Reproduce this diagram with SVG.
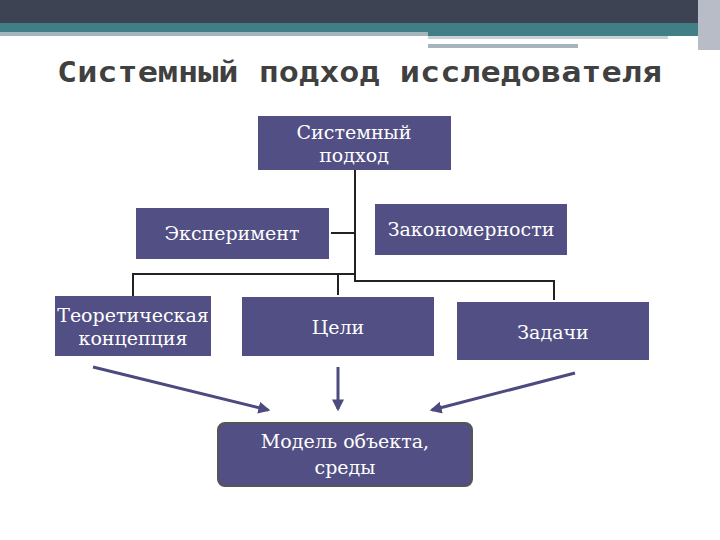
<svg xmlns="http://www.w3.org/2000/svg" width="720" height="540" viewBox="0 0 720 540">
<defs>
<style>
.b{fill:#524f84}
.t{font-family:"DejaVu Serif",serif;font-size:19px;fill:#fff;text-anchor:middle}
.c{stroke:#222;stroke-width:2;fill:none}
.a{stroke:#4c4a7e;stroke-width:3;fill:none;marker-end:url(#ar)}
</style>
<marker id="ar" viewBox="0 0 10 10" refX="8" refY="5" markerWidth="4" markerHeight="4" orient="auto"><path d="M0,0L10,5L0,10z" fill="#4c4a7e"/></marker>
</defs>
<rect width="720" height="540" fill="#fff"/>
<rect width="720" height="23" fill="#3e4354"/>
<rect y="23" width="720" height="9" fill="#417f86"/>
<rect y="32" width="428" height="4" fill="#a4b5bc"/>
<rect x="428" y="32" width="280" height="4" fill="#417f86"/>
<rect x="428" y="36" width="240" height="3" fill="#c8d2d6"/>
<rect x="428" y="44" width="150" height="4" fill="#a4b5bc"/>
<rect x="698" y="0" width="22" height="50" fill="#b8bcc6"/>
<text x="57" y="82" font-family="DejaVu Sans Mono,monospace" font-weight="bold" font-size="28" fill="#404040" textLength="605" lengthAdjust="spacingAndGlyphs">Системный подход исследователя</text>
<g id="connectors">
<path class="c" d="M355,170V281H554V300M331,233H355M133,296V274H355M338,274V295"/>
<path class="a" d="M93,367L268,410"/>
<path class="a" d="M338,367V409"/>
<path class="a" d="M575,373L432,410"/>
</g>
<g id="n1"><rect class="b" x="258" y="116" width="193" height="54"/><text class="t" x="354" y="139">Системный</text><text class="t" x="354" y="162">подход</text></g>
<g id="n2"><rect class="b" x="136" y="208" width="193" height="51"/><text class="t" x="232" y="240">Эксперимент</text></g>
<g id="n3"><rect class="b" x="375" y="204" width="192" height="51"/><text class="t" x="471" y="236">Закономерности</text></g>
<g id="n4"><rect class="b" x="55" y="296" width="156" height="60"/><text class="t" x="133" y="322" font-size="18">Теоретическая</text><text class="t" x="133" y="345" font-size="18">концепция</text></g>
<g id="n5"><rect class="b" x="242" y="297" width="192" height="59"/><text class="t" x="338" y="334">Цели</text></g>
<g id="n6"><rect class="b" x="457" y="302" width="192" height="58"/><text class="t" x="553" y="339">Задачи</text></g>
<g id="n7"><rect class="b" x="218" y="423" width="254" height="63" rx="7" stroke="#555" stroke-width="2"/><text class="t" x="345" y="448">Модель объекта,</text><text class="t" x="345" y="474">среды</text></g>
</svg>
